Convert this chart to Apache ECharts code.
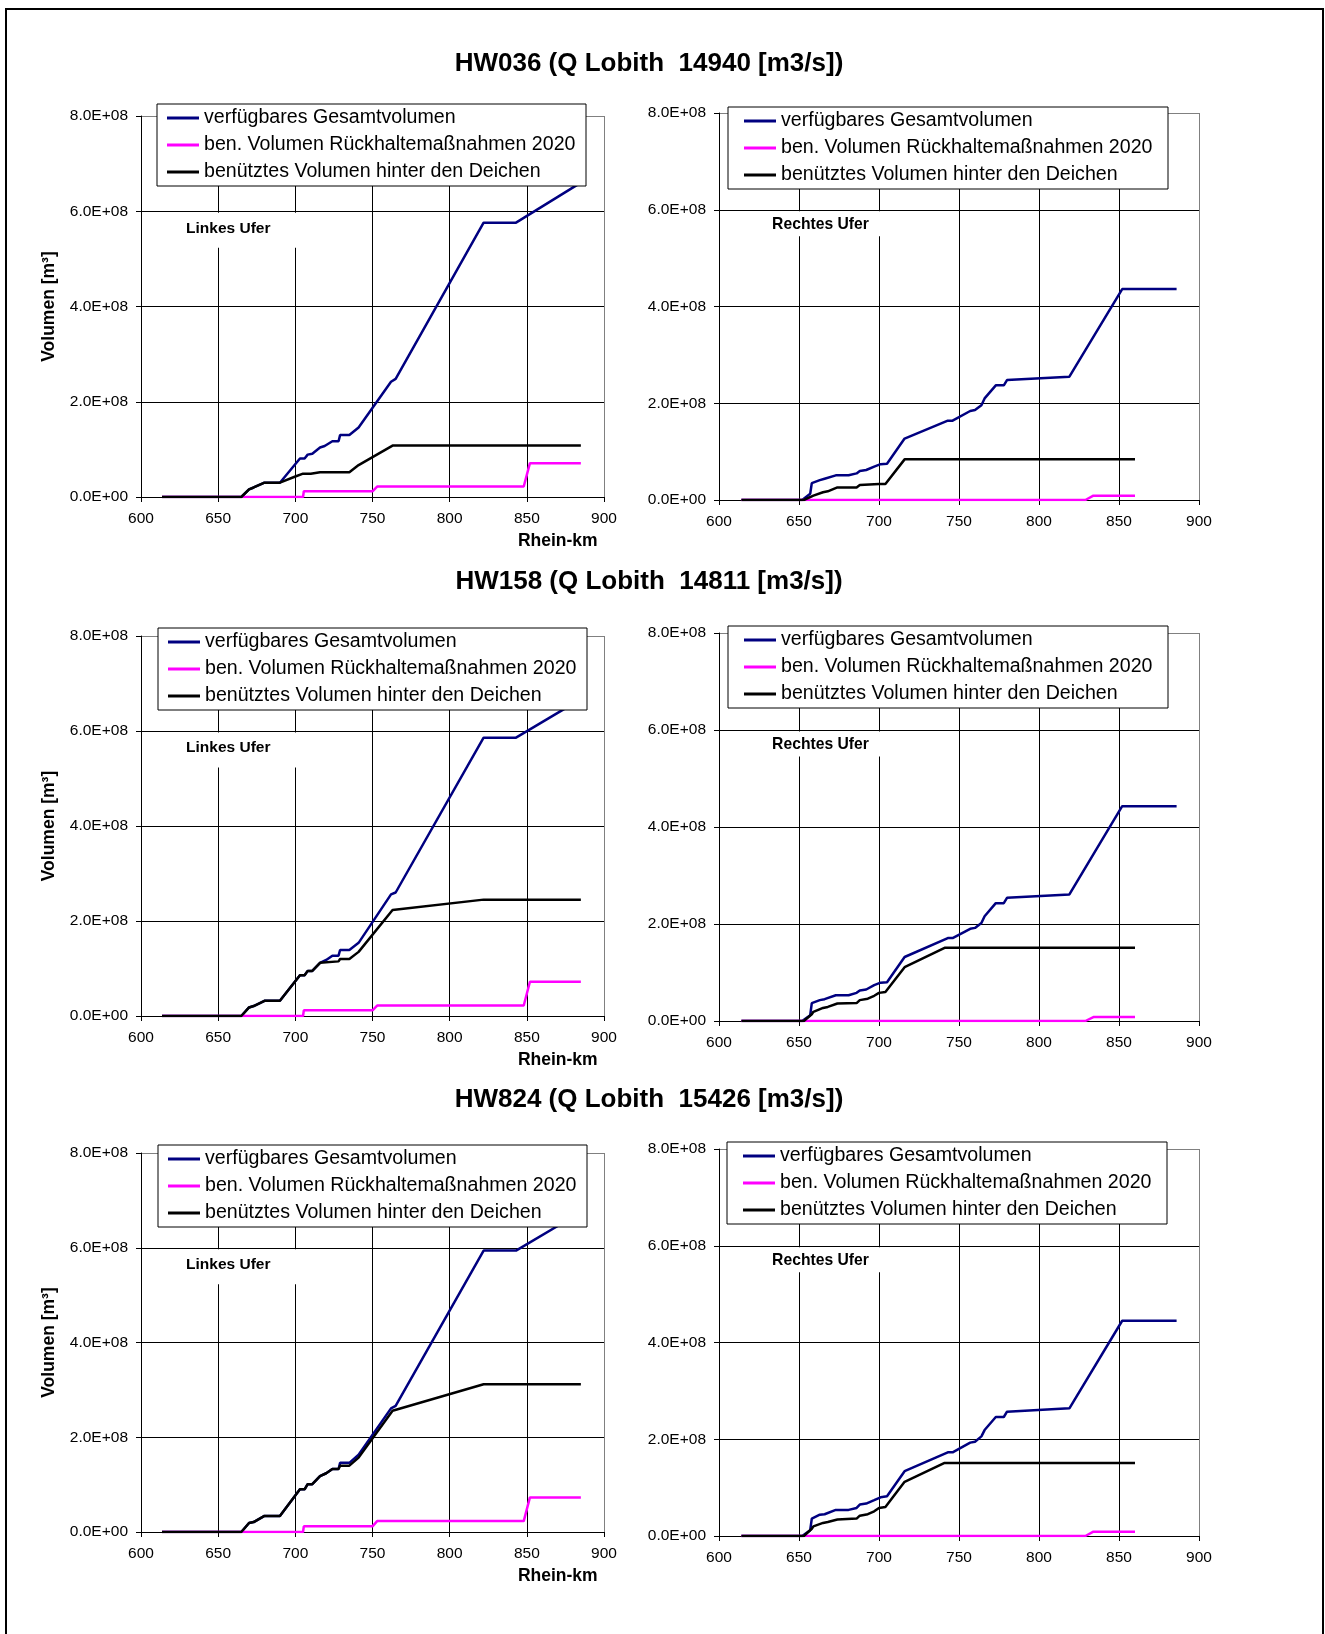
<!DOCTYPE html>
<html><head><meta charset="utf-8">
<script src="https://cdn.jsdelivr.net/npm/echarts@6/dist/echarts.min.js"></script>
<style>html,body{margin:0;padding:0;background:#fff}#c{width:1325px;height:1634px}</style>
</head><body><div id="c"></div><script>
// ---------- DATA (Rhein-km, volume in 10^8 m³) ----------
const seriesNames = ['verfügbares Gesamtvolumen', 'ben. Volumen Rückhaltemaßnahmen 2020', 'benütztes Volumen hinter den Deichen'];
const chartTitles = ['HW036 (Q Lobith  14940 [m3/s])', 'HW158 (Q Lobith  14811 [m3/s])', 'HW824 (Q Lobith  15426 [m3/s])'];
const bankLabels = ['Linkes Ufer', 'Rechtes Ufer'];
const xAxisTitle = 'Rhein-km';
const yAxisTitle = 'Volumen [m³]';

// HW036 links
const hw036L_gesamt_km  = [613.6, 665, 670, 673, 680, 690, 703, 706, 708, 711, 716, 719, 724, 728, 729, 735, 741, 762, 765, 822, 843, 885];
const hw036L_gesamt_vol = [0, 0, 0.16, 0.2, 0.3, 0.3, 0.81, 0.81, 0.89, 0.91, 1.04, 1.07, 1.17, 1.17, 1.3, 1.3, 1.46, 2.42, 2.48, 5.76, 5.76, 6.6];
const hw036L_rueck_km   = [613.6, 705, 705.5, 750, 753, 848, 852, 885];
const hw036L_rueck_vol  = [0, 0, 0.12, 0.12, 0.22, 0.22, 0.71, 0.71];
const hw036L_deich_km   = [613.6, 665, 670, 673, 680, 690, 700, 705, 710, 716, 735, 741, 763, 885];
const hw036L_deich_vol  = [0, 0, 0.16, 0.2, 0.3, 0.3, 0.43, 0.49, 0.49, 0.52, 0.52, 0.67, 1.08, 1.08];
// HW036 rechts
const hw036R_gesamt_km  = [614, 652, 657, 658, 663, 666, 673, 681, 686, 688, 692, 697, 701, 705, 716, 743, 746, 757, 760, 764, 766, 773, 778, 780, 819, 852, 886];
const hw036R_gesamt_vol = [0, 0, 0.13, 0.35, 0.41, 0.44, 0.51, 0.51, 0.55, 0.6, 0.62, 0.69, 0.74, 0.75, 1.27, 1.64, 1.64, 1.84, 1.86, 1.96, 2.1, 2.37, 2.37, 2.48, 2.55, 4.36, 4.36];
const hw036R_rueck_km   = [614, 829, 834, 860];
const hw036R_rueck_vol  = [0, 0, 0.09, 0.09];
const hw036R_deich_km   = [614, 653, 659, 665, 668, 674, 686, 688, 700, 704, 716, 860];
const hw036R_deich_vol  = [0, 0, 0.09, 0.16, 0.18, 0.26, 0.26, 0.31, 0.33, 0.33, 0.84, 0.84];
// HW158 links
const hw158L_gesamt_km  = [613.6, 665, 670, 673, 680, 690, 703, 706, 708, 711, 716, 720, 724, 728, 729, 735, 741, 762, 765, 822, 843, 885];
const hw158L_gesamt_vol = [0, 0, 0.18, 0.21, 0.32, 0.32, 0.86, 0.86, 0.95, 0.95, 1.12, 1.18, 1.27, 1.27, 1.39, 1.39, 1.54, 2.56, 2.6, 5.86, 5.86, 6.67];
const hw158L_rueck_km   = [613.6, 705, 705.5, 750, 753, 848, 852, 885];
const hw158L_rueck_vol  = [0, 0, 0.12, 0.12, 0.22, 0.22, 0.72, 0.72];
const hw158L_deich_km   = [613.6, 665, 670, 673, 680, 690, 703, 706, 708, 711, 716, 728, 729, 735, 741, 763, 822, 885];
const hw158L_deich_vol  = [0, 0, 0.18, 0.21, 0.32, 0.32, 0.86, 0.86, 0.95, 0.95, 1.12, 1.15, 1.2, 1.2, 1.35, 2.23, 2.45, 2.45];
// HW158 rechts
const hw158R_gesamt_km  = [614, 652, 657, 658, 663, 666, 673, 681, 686, 688, 692, 697, 701, 705, 716, 743, 746, 757, 760, 764, 766, 773, 778, 780, 819, 852, 886];
const hw158R_gesamt_vol = [0, 0, 0.12, 0.37, 0.43, 0.45, 0.53, 0.53, 0.58, 0.63, 0.65, 0.74, 0.79, 0.8, 1.32, 1.71, 1.71, 1.9, 1.92, 2.02, 2.16, 2.43, 2.43, 2.54, 2.61, 4.43, 4.43];
const hw158R_rueck_km   = [614, 829, 834, 860];
const hw158R_rueck_vol  = [0, 0, 0.08, 0.08];
const hw158R_deich_km   = [614, 653, 658, 659, 665, 668, 674, 686, 688, 693, 697, 700, 704, 716, 741, 860];
const hw158R_deich_vol  = [0, 0, 0.14, 0.19, 0.27, 0.29, 0.36, 0.37, 0.43, 0.46, 0.52, 0.58, 0.6, 1.11, 1.51, 1.51];
// HW824 links
const hw824L_gesamt_km  = [613.6, 665, 670, 673, 680, 690, 703, 706, 708, 711, 716, 720, 724, 728, 729, 735, 741, 762, 765, 822, 843, 885];
const hw824L_gesamt_vol = [0, 0, 0.19, 0.21, 0.34, 0.34, 0.9, 0.9, 1.01, 1.01, 1.18, 1.24, 1.33, 1.33, 1.46, 1.46, 1.63, 2.61, 2.66, 5.94, 5.94, 6.75];
const hw824L_rueck_km   = [613.6, 705, 705.5, 750, 753, 848, 852, 885];
const hw824L_rueck_vol  = [0, 0, 0.12, 0.12, 0.23, 0.23, 0.73, 0.73];
const hw824L_deich_km   = [613.6, 665, 670, 673, 680, 690, 703, 706, 708, 711, 716, 720, 724, 728, 729, 735, 741, 763, 822, 885];
const hw824L_deich_vol  = [0, 0, 0.19, 0.21, 0.34, 0.34, 0.9, 0.9, 1.01, 1.01, 1.18, 1.24, 1.33, 1.33, 1.4, 1.4, 1.57, 2.56, 3.12, 3.12];
// HW824 rechts
const hw824R_gesamt_km  = [614, 652, 657, 658, 663, 666, 673, 681, 686, 688, 692, 697, 701, 705, 716, 743, 746, 757, 760, 764, 766, 773, 778, 780, 819, 852, 886];
const hw824R_gesamt_vol = [0, 0, 0.12, 0.36, 0.44, 0.45, 0.54, 0.54, 0.58, 0.65, 0.67, 0.74, 0.8, 0.82, 1.34, 1.73, 1.73, 1.93, 1.95, 2.06, 2.19, 2.46, 2.46, 2.57, 2.64, 4.45, 4.45];
const hw824R_rueck_km   = [614, 829, 834, 860];
const hw824R_rueck_vol  = [0, 0, 0.09, 0.09];
const hw824R_deich_km   = [614, 653, 658, 659, 665, 668, 674, 686, 688, 693, 697, 700, 704, 716, 741, 860];
const hw824R_deich_vol  = [0, 0, 0.15, 0.2, 0.27, 0.29, 0.34, 0.36, 0.42, 0.45, 0.51, 0.58, 0.6, 1.12, 1.51, 1.51];

// axis ranges
const xMin = 600, xMax = 900, xStep = 50;
const yMin = 0, yMax = 8, yStep = 2;

// ---------- LAYOUT ----------
const FONT = '"Liberation Sans", Arial, Helvetica, sans-serif';
const colors = ['#000080', '#FF00FF', '#000000'];
const panels = [
  {grid:[141,116,463,381], leg:[157,104,10,9],  side:0, s:[[hw036L_gesamt_km,hw036L_gesamt_vol],[hw036L_rueck_km,hw036L_rueck_vol],[hw036L_deich_km,hw036L_deich_vol]]},
  {grid:[719,113,480,387], leg:[728,107,16,14], side:1, s:[[hw036R_gesamt_km,hw036R_gesamt_vol],[hw036R_rueck_km,hw036R_rueck_vol],[hw036R_deich_km,hw036R_deich_vol]]},
  {grid:[141,636,463,380], leg:[158,628,10,9],  side:0, s:[[hw158L_gesamt_km,hw158L_gesamt_vol],[hw158L_rueck_km,hw158L_rueck_vol],[hw158L_deich_km,hw158L_deich_vol]]},
  {grid:[719,633,480,388], leg:[728,626,16,14], side:1, s:[[hw158R_gesamt_km,hw158R_gesamt_vol],[hw158R_rueck_km,hw158R_rueck_vol],[hw158R_deich_km,hw158R_deich_vol]]},
  {grid:[141,1153,463,379],leg:[158,1145,10,9], side:0, s:[[hw824L_gesamt_km,hw824L_gesamt_vol],[hw824L_rueck_km,hw824L_rueck_vol],[hw824L_deich_km,hw824L_deich_vol]]},
  {grid:[719,1149,480,387],leg:[727,1142,16,14],side:1, s:[[hw824R_gesamt_km,hw824R_gesamt_vol],[hw824R_rueck_km,hw824R_rueck_vol],[hw824R_deich_km,hw824R_deich_vol]]}
];
const titleY = [63.6, 581.7, 1099.4];

function sciLabel(v){ return v === 0 ? '0.0E+00' : v.toFixed(1) + 'E+08'; }
function pairs(km, vol){ return km.map((k, i) => [k, vol[i]]); }

const grids = [], xAxes = [], yAxes = [], series = [], legends = [], graphics = [];

graphics.push({type:'rect', z:10, silent:true, shape:{x:6, y:9, width:1317, height:1700},
  style:{fill:'none', stroke:'#000', lineWidth:2}});
chartTitles.forEach((t, i) => graphics.push({type:'text', z:10, x:649, y:titleY[i],
  style:{text:t, font:'bold 26px ' + FONT, fill:'#000', align:'center', verticalAlign:'middle'}}));

const nX = (xMax - xMin) / xStep + 1, nY = (yMax - yMin) / yStep + 1;
const xSplitColors = Array.from({length:nX}, (_, i) => i === nX - 1 ? '#808080' : '#000');
const ySplitColors = Array.from({length:nY}, (_, i) => i === nY - 1 ? '#808080' : '#000');

panels.forEach((p, i) => {
  const [L, T, W, H] = p.grid;
  grids.push({left:L, top:T, width:W, height:H, containLabel:false});
  xAxes.push({type:'value', gridIndex:i, min:xMin, max:xMax, interval:xStep,
    axisLine:{show:true, onZero:false, lineStyle:{color:'#000', width:1}},
    axisTick:{show:true, length:5, lineStyle:{color:'#000'}},
    axisLabel:{fontSize:15.5, color:'#000', fontFamily:FONT, margin:14},
    splitLine:{show:true, lineStyle:{color:xSplitColors, width:1}}});
  yAxes.push({type:'value', gridIndex:i, min:yMin, max:yMax, interval:yStep,
    axisLine:{show:true, onZero:false, lineStyle:{color:'#000', width:1}},
    axisTick:{show:true, length:5, lineStyle:{color:'#000'}},
    axisLabel:{fontSize:15.5, color:'#000', fontFamily:FONT, margin:13, formatter:sciLabel},
    splitLine:{show:true, lineStyle:{color:ySplitColors, width:1}}});
  p.s.forEach((d, k) => series.push({type:'line', name:seriesNames[k], xAxisIndex:i, yAxisIndex:i,
    data:pairs(d[0], d[1]), showSymbol:false, symbol:'none', silent:true,
    color:colors[k], lineStyle:{width:2.5, color:colors[k]}, itemStyle:{color:colors[k]}}));
  const [lx, ly, pl, pr] = p.leg;
  legends.push({data:seriesNames, left:lx, top:ly, orient:'vertical', selectedMode:false,
    backgroundColor:'#fff', borderColor:'#000', borderWidth:1, padding:[4, pr, 4, pl],
    itemGap:7, itemWidth:32, itemHeight:3, icon:'rect', z:6,
    textStyle:{fontFamily:FONT, fontSize:19.6, color:'#000', lineHeight:20, width:373}});
  // bank label with white background box
  const y6 = T + H * (yMax - 6) / (yMax - yMin);
  if (p.side === 0) {
    graphics.push({type:'rect', z:1, silent:true, shape:{x:L + 24, y:y6 + 1.5, width:135, height:35}, style:{fill:'#fff'}});
    graphics.push({type:'text', z:1, x:228.3, y:y6 + 17, style:{text:bankLabels[0], font:'bold 15.5px ' + FONT, fill:'#000', align:'center', verticalAlign:'middle'}});
    graphics.push({type:'text', z:10, x:49.5, y:T + H / 2, rotation:Math.PI / 2,
      style:{text:yAxisTitle, font:'bold 17.5px ' + FONT, fill:'#000', align:'center', verticalAlign:'middle'}});
    graphics.push({type:'text', z:10, x:557.8, y:T + H + 44.5,
      style:{text:xAxisTitle, font:'bold 17.5px ' + FONT, fill:'#000', align:'center', verticalAlign:'middle'}});
  } else {
    graphics.push({type:'rect', z:1, silent:true, shape:{x:765, y:y6 + 1.5, width:120, height:25}, style:{fill:'#fff'}});
    graphics.push({type:'text', z:1, x:820.5, y:y6 + 15, style:{text:bankLabels[1], font:'bold 15.7px ' + FONT, fill:'#000', align:'center', verticalAlign:'middle'}});
  }
});

const chart = echarts.init(document.getElementById('c'), null, {renderer:'canvas'});
chart.setOption({
  animation:false, backgroundColor:'#fff',
  grid:grids, xAxis:xAxes, yAxis:yAxes, series:series, legend:legends, graphic:{elements:graphics}
});
</script></body></html>
